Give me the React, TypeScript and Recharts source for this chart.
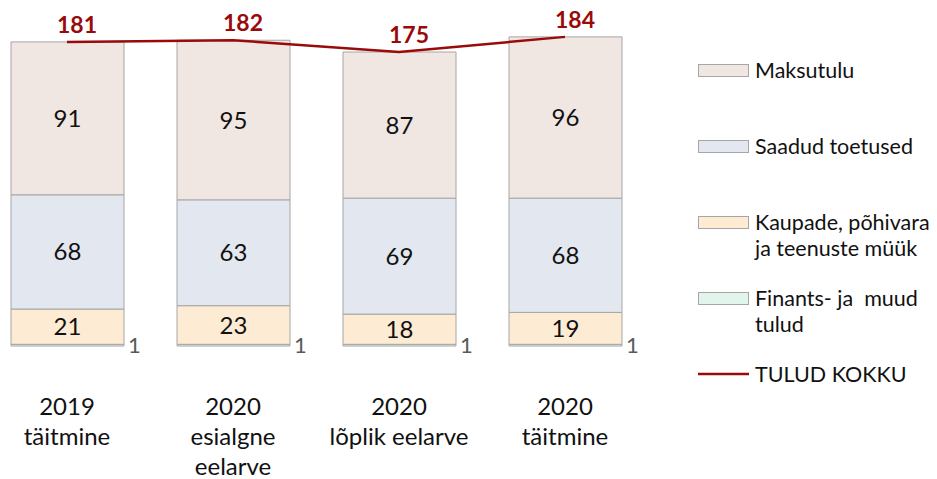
import React from 'react';
import { ComposedChart, Bar, Line, XAxis, YAxis, LabelList } from 'recharts';

const categories = ['2019\ntäitmine', '2020\nesialgne\neelarve', '2020\nlõplik eelarve', '2020\ntäitmine'];
const finants = [1, 1, 1, 1];
const kaupade = [21, 23, 18, 19];
const toetused = [68, 63, 69, 68];
const maksutulu = [91, 95, 87, 96];
const tuludKokku = [181, 182, 175, 184];

const seriesNames = [
  'Maksutulu',
  'Saadud toetused',
  'Kaupade, põhivara\nja teenuste müük',
  'Finants- ja  muud\ntulud',
  'TULUD KOKKU',
];
const seriesColors = ['#F0E6E2', '#E3E7F0', '#FDEBD4', '#E2F5EC', '#990A0A'];

const data = categories.map((cat, i) => ({
  cat,
  fin: finants[i],
  kaup: kaupade[i],
  toet: toetused[i],
  maks: maksutulu[i],
  total: tuludKokku[i],
}));

const FONT = 'Lato, "Open Sans", sans-serif';
const BORDER = '#A6A6A6';

const MultiTick = (props: any) => {
  const { x, y, payload } = props;
  const lines = String(payload.value).split('\n');
  return (
    <text x={x} y={y} textAnchor="middle" fontSize={24} fill="#111" fontFamily={FONT}>
      {lines.map((l, i) => (
        <tspan key={i} x={x} dy={i === 0 ? 69 : 30}>
          {l}
        </tspan>
      ))}
    </text>
  );
};

const OutsideLabel = (props: any) => {
  const { x, y, width, height, value } = props;
  return (
    <text x={x + width + 4} y={y + height / 2 + 8} fontSize={22} fill="#595959" fontFamily={FONT}>
      {value}
    </text>
  );
};

const TotalLabel = (props: any) => {
  const { x, y, value } = props;
  return (
    <text x={x + 10} y={y - 9} textAnchor="middle" fontSize={23} fontWeight="bold" fill="#990A0A" fontFamily={FONT}>
      {value}
    </text>
  );
};

const centerLabel = { fontSize: 24, fill: '#111', fontFamily: FONT };

export default function App() {
  return (
    <div style={{ position: 'absolute', left: 0, top: 0, width: 937, height: 479, background: '#fff', fontFamily: FONT, overflow: 'hidden' }}>
      <div style={{ position: 'absolute', left: -16, top: 0 }}>
        <ComposedChart width={953} height={479} data={data} margin={{ top: 10, right: 289, bottom: 0, left: 0 }}>
          <XAxis
            dataKey="cat"
            axisLine={false}
            tickLine={false}
            tickSize={0}
            tickMargin={0}
            height={133}
            interval={0}
            tick={<MultiTick />}
          />
          <YAxis hide domain={[0, 200]} />
          <Bar dataKey="fin" stackId="a" fill={seriesColors[3]} stroke={BORDER} barSize={113} isAnimationActive={false}>
            <LabelList dataKey="fin" content={<OutsideLabel />} />
          </Bar>
          <Bar dataKey="kaup" stackId="a" fill={seriesColors[2]} stroke={BORDER} barSize={113} isAnimationActive={false}>
            <LabelList dataKey="kaup" position="center" style={centerLabel} />
          </Bar>
          <Bar dataKey="toet" stackId="a" fill={seriesColors[1]} stroke={BORDER} barSize={113} isAnimationActive={false}>
            <LabelList dataKey="toet" position="center" style={centerLabel} />
          </Bar>
          <Bar dataKey="maks" stackId="a" fill={seriesColors[0]} stroke={BORDER} barSize={113} isAnimationActive={false}>
            <LabelList dataKey="maks" position="center" style={centerLabel} />
          </Bar>
          <Line dataKey="total" stroke={seriesColors[4]} strokeWidth={2.5} dot={false} isAnimationActive={false}>
            <LabelList dataKey="total" content={<TotalLabel />} />
          </Line>
        </ComposedChart>
      </div>
      <div style={{ position: 'absolute', left: 698, top: 57 }}>
        {seriesNames.map((name, i) => {
          const isLine = i === seriesNames.length - 1;
          return (
            <div key={i} style={{ position: 'absolute', left: 0, top: i * 76, display: 'flex', alignItems: 'flex-start', width: 240 }}>
              <svg width={54} height={26} style={{ flex: 'none' }}>
                {isLine ? (
                  <line x1={0} x2={51} y1={13} y2={13} stroke={seriesColors[i]} strokeWidth={2.5} />
                ) : (
                  <rect x={0.5} y={7.5} width={50} height={12} fill={seriesColors[i]} stroke={BORDER} />
                )}
              </svg>
              <div style={{ fontSize: 21.5, lineHeight: '26px', color: '#111', whiteSpace: 'pre', marginLeft: 3 }}>{name}</div>
            </div>
          );
        })}
      </div>
    </div>
  );
}
